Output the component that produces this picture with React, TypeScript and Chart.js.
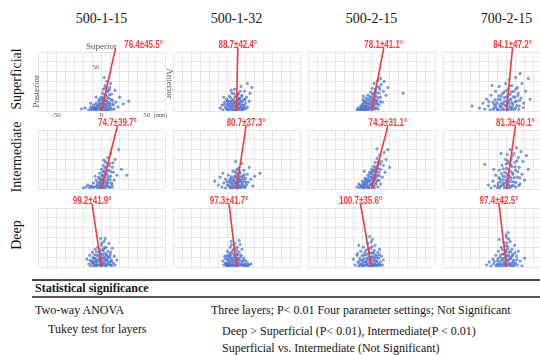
import React, { useEffect, useRef } from 'react';
import { Chart, registerables } from 'chart.js';

Chart.register(...registerables);

type Pt = [number, number];

const settings = ['500-1-15', '500-1-32', '500-2-15', '700-2-15'];
const layers = ['Superficial', 'Intermediate', 'Deep'];
const meanAngles = [
  [76.4, 88.7, 78.1, 84.1],
  [74.7, 80.7, 74.3, 81.3],
  [99.2, 97.3, 100.7, 97.4],
];
const sdAngles = [
  [45.5, 42.4, 41.1, 47.2],
  [39.7, 37.3, 31.1, 40.1],
  [41.9, 41.7, 35.6, 42.5],
];
const xTicks = [-50, 0, 50];
const yTicks = [50];

const supA: Pt[] = [[-22,2],[-18,3],[-14,1],[-12,4],[-10,2],[-9,6],[-8,1],[-7,3],[-6,8],[-5,2],[-4,5],[-3,11],[-2,1],[-2,7],[-1,4],[0,14],[0,2],[1,9],[1,18],[2,5],[2,22],[3,1],[3,12],[4,7],[4,26],[5,3],[5,16],[6,10],[6,30],[7,5],[7,20],[8,13],[8,1],[9,24],[9,8],[10,3],[11,17],[12,11],[13,6],[14,2],[15,21],[16,9],[18,4],[20,14],[24,7],[30,10],[3,34],[-6,14],[-12,8],[10,28],
  [-7.5,2.5],[-6.5,5.5],[-5.5,0.5],[-4.5,3.5],[-3.5,6.5],[-2.5,9.5],[-1.5,2.5],[-0.5,6.5],[0.5,0.5],[0.5,11.5],[1.5,3.5],[1.5,7.5],[2.5,13.5],[2.5,9.5],[3.5,4.5],[3.5,16.5],[4.5,1.5],[4.5,10.5],[5.5,6.5],[5.5,19.5],[6.5,13.5],[6.5,0.5],[7.5,8.5],[7.5,2.5],[8.5,16.5],[9.5,5.5],[10.5,11.5],[11.5,1.5],[-9.5,3.5],[-1.5,12.5],[3.5,23.5],[8.5,21.5],[-11.5,1.5],[12.5,7.5]];
const supB: Pt[] = [[-18,3],[-16,6],[-15,1],[-13,9],[-12,4],[-11,12],[-10,2],[-9,7],[-8,15],[-8,1],[-7,5],[-6,10],[-5,3],[-5,18],[-4,7],[-3,12],[-3,1],[-2,22],[-2,5],[-1,9],[0,15],[0,3],[1,6],[1,11],[2,2],[2,18],[3,8],[3,13],[4,4],[5,10],[5,25],[6,1],[6,16],[7,6],[8,12],[8,3],[9,20],[10,8],[11,14],[12,4],[12,28],[14,10],[15,18],[17,24],[-14,14],[-6,21],[4,20],[-10,10],
  [-11.5,2.5],[-10.5,6.5],[-9.5,0.5],[-9.5,10.5],[-8.5,4.5],[-7.5,8.5],[-6.5,2.5],[-6.5,13.5],[-5.5,6.5],[-4.5,0.5],[-4.5,10.5],[-3.5,4.5],[-2.5,8.5],[-1.5,1.5],[-1.5,14.5],[-0.5,5.5],[0.5,10.5],[0.5,0.5],[1.5,3.5],[1.5,16.5],[2.5,7.5],[3.5,1.5],[3.5,11.5],[4.5,6.5],[5.5,3.5],[5.5,14.5],[6.5,9.5],[7.5,1.5],[8.5,5.5],[9.5,11.5],[10.5,2.5],[-13.5,6.5],[2.5,12.5],[-2.5,17.5]];
const supC: Pt[] = [[-16,1],[-15,3],[-13,2],[-12,5],[-11,1],[-10,7],[-9,3],[-8,10],[-8,1],[-7,5],[-6,2],[-6,13],[-5,8],[-4,4],[-4,16],[-3,1],[-2,11],[-2,6],[-1,19],[0,3],[0,14],[1,9],[1,23],[2,5],[2,17],[3,12],[3,28],[4,2],[4,20],[5,8],[5,15],[6,25],[6,11],[7,31],[8,18],[8,6],[9,22],[10,14],[10,33],[11,27],[12,9],[13,20],[14,30],[16,16],[18,24],[35,18],[-9,15],[7,2],
  [-11.5,2.5],[-10.5,4.5],[-9.5,0.5],[-8.5,6.5],[-7.5,2.5],[-7.5,8.5],[-6.5,4.5],[-5.5,0.5],[-5.5,10.5],[-4.5,6.5],[-3.5,2.5],[-3.5,12.5],[-2.5,8.5],[-1.5,3.5],[-1.5,14.5],[-0.5,7.5],[0.5,0.5],[0.5,11.5],[1.5,5.5],[1.5,17.5],[2.5,9.5],[2.5,2.5],[3.5,14.5],[3.5,6.5],[4.5,22.5],[4.5,10.5],[5.5,3.5],[5.5,18.5],[6.5,7.5],[7.5,13.5],[8.5,24.5],[-9.5,11.5],[9.5,9.5],[-13.5,0.5]];
const supD: Pt[] = [[-38,5],[-30,3],[-26,8],[-24,2],[-22,12],[-20,5],[-18,1],[-17,16],[-15,9],[-14,3],[-12,20],[-12,6],[-10,1],[-9,12],[-8,25],[-7,4],[-6,15],[-5,8],[-4,2],[-3,19],[-2,10],[-1,28],[0,5],[0,14],[1,1],[2,22],[2,9],[3,32],[4,4],[4,17],[5,12],[6,26],[6,2],[7,7],[8,20],[9,14],[10,34],[10,3],[11,10],[12,24],[13,18],[14,5],[15,38],[16,13],[17,28],[19,8],[21,20],[24,33],[26,12],[-16,26],
  [-14.5,1.5],[-13.5,6.5],[-12.5,11.5],[-11.5,3.5],[-10.5,8.5],[-9.5,1.5],[-8.5,15.5],[-7.5,6.5],[-6.5,0.5],[-6.5,11.5],[-5.5,4.5],[-4.5,17.5],[-3.5,7.5],[-2.5,1.5],[-2.5,13.5],[-1.5,5.5],[-0.5,20.5],[0.5,9.5],[1.5,2.5],[1.5,15.5],[2.5,6.5],[3.5,11.5],[3.5,25.5],[4.5,1.5],[5.5,8.5],[5.5,19.5],[6.5,4.5],[7.5,14.5],[8.5,1.5],[9.5,9.5],[10.5,22.5],[11.5,5.5],[12.5,15.5],[13.5,1.5],[14.5,10.5],[-19.5,9.5],[18.5,3.5]];

const intA: Pt[] = [[-20,1],[-17,2],[-15,4],[-13,1],[-11,3],[-9,6],[-8,2],[-6,9],[-5,4],[-4,1],[-3,12],[-2,7],[-2,16],[-1,3],[0,10],[0,20],[1,5],[1,14],[2,1],[2,24],[3,8],[3,18],[4,12],[4,28],[5,3],[5,22],[6,6],[6,15],[7,32],[7,10],[8,19],[8,2],[9,26],[10,13],[10,36],[11,6],[12,22],[13,17],[14,9],[15,30],[17,14],[19,40],[22,20],[-7,13],[28,14],[12,2],
  [-5.5,2.5],[-4.5,6.5],[-3.5,3.5],[-2.5,0.5],[-2.5,10.5],[-1.5,5.5],[-0.5,8.5],[-0.5,1.5],[0.5,13.5],[0.5,4.5],[1.5,9.5],[1.5,17.5],[2.5,2.5],[2.5,12.5],[3.5,5.5],[3.5,21.5],[4.5,0.5],[4.5,15.5],[5.5,8.5],[5.5,26.5],[6.5,3.5],[6.5,18.5],[7.5,12.5],[7.5,6.5],[8.5,23.5],[9.5,9.5],[9.5,1.5],[10.5,17.5],[11.5,4.5],[-9.5,1.5],[-12.5,2.5],[2.5,29.5],[12.5,26.5]];
const intB: Pt[] = [[-24,8],[-20,4],[-18,12],[-16,2],[-14,6],[-12,1],[-12,10],[-10,4],[-9,14],[-8,7],[-7,2],[-6,11],[-5,5],[-4,18],[-4,1],[-3,8],[-2,13],[-1,3],[0,6],[0,16],[1,10],[1,1],[2,21],[2,4],[3,12],[3,7],[4,2],[4,16],[5,9],[6,26],[6,5],[7,13],[8,2],[8,19],[9,8],[10,11],[11,4],[12,15],[13,7],[14,22],[16,10],[18,3],[20,13],[26,16],[-1,28],[-15,16],
  [-8.5,3.5],[-7.5,9.5],[-6.5,0.5],[-6.5,6.5],[-5.5,2.5],[-5.5,12.5],[-4.5,8.5],[-3.5,4.5],[-2.5,1.5],[-2.5,10.5],[-1.5,6.5],[-0.5,12.5],[-0.5,2.5],[0.5,8.5],[0.5,4.5],[1.5,14.5],[1.5,6.5],[2.5,0.5],[2.5,10.5],[3.5,3.5],[3.5,17.5],[4.5,8.5],[5.5,1.5],[5.5,12.5],[6.5,6.5],[7.5,3.5],[7.5,10.5],[8.5,14.5],[9.5,1.5],[10.5,6.5],[-10.5,7.5],[0.5,19.5],[-1.5,17.5]];
const intC: Pt[] = [[-16,2],[-14,5],[-13,1],[-11,3],[-10,8],[-9,1],[-8,5],[-7,11],[-6,3],[-5,7],[-4,14],[-3,1],[-3,9],[-2,17],[-1,5],[0,12],[0,20],[1,3],[1,15],[2,8],[2,23],[3,1],[3,18],[4,11],[4,27],[5,6],[5,21],[6,14],[6,31],[7,2],[7,24],[8,9],[8,17],[9,34],[10,20],[10,5],[11,28],[12,12],[13,24],[14,37],[15,17],[16,30],[18,40],[20,22],[-8,18],[6,41],
  [-10.5,2.5],[-9.5,5.5],[-8.5,1.5],[-7.5,3.5],[-7.5,7.5],[-6.5,9.5],[-5.5,1.5],[-5.5,5.5],[-4.5,10.5],[-3.5,3.5],[-3.5,7.5],[-2.5,12.5],[-2.5,1.5],[-1.5,8.5],[-1.5,15.5],[-0.5,4.5],[0.5,10.5],[0.5,17.5],[1.5,6.5],[1.5,12.5],[2.5,2.5],[2.5,19.5],[3.5,9.5],[3.5,14.5],[4.5,4.5],[4.5,22.5],[5.5,12.5],[5.5,17.5],[6.5,8.5],[7.5,20.5],[7.5,27.5],[8.5,13.5],[9.5,25.5],[-12.5,3.5]];
const intD: Pt[] = [[-24,25],[-20,4],[-17,1],[-15,8],[-13,3],[-12,14],[-10,1],[-9,6],[-8,19],[-7,10],[-6,3],[-5,24],[-4,13],[-3,6],[-2,1],[-2,17],[-1,30],[0,9],[0,21],[1,4],[1,35],[2,14],[2,26],[3,1],[3,8],[4,18],[4,40],[5,11],[5,30],[6,3],[6,23],[7,15],[8,36],[8,7],[9,27],[10,19],[10,2],[11,42],[12,12],[13,32],[14,22],[15,5],[16,38],[17,15],[18,28],[20,9],[22,34],[24,20],[-6,36],[-14,20],
  [-9.5,3.5],[-8.5,11.5],[-7.5,1.5],[-6.5,7.5],[-5.5,15.5],[-4.5,4.5],[-3.5,9.5],[-3.5,20.5],[-2.5,3.5],[-1.5,12.5],[-0.5,6.5],[-0.5,25.5],[0.5,1.5],[0.5,15.5],[1.5,10.5],[1.5,28.5],[2.5,4.5],[2.5,19.5],[3.5,12.5],[4.5,2.5],[4.5,24.5],[5.5,7.5],[6.5,16.5],[6.5,33.5],[7.5,3.5],[8.5,11.5],[9.5,22.5],[10.5,6.5],[11.5,28.5],[12.5,17.5],[13.5,3.5],[14.5,11.5]];

const deepA: Pt[] = [[-16,8],[-14,3],[-13,12],[-12,1],[-11,6],[-10,15],[-9,4],[-8,9],[-8,1],[-7,18],[-6,6],[-5,12],[-5,2],[-4,20],[-3,8],[-2,3],[-2,15],[-1,10],[0,1],[0,22],[1,6],[1,13],[2,18],[2,3],[3,9],[3,26],[4,1],[4,14],[5,7],[5,20],[6,11],[6,3],[7,16],[8,5],[8,24],[9,10],[10,2],[10,15],[11,7],[12,19],[13,4],[14,11],[15,2],[17,7],[-1,29],[4,29],
  [-10.5,3.5],[-9.5,9.5],[-8.5,5.5],[-7.5,1.5],[-7.5,12.5],[-6.5,3.5],[-6.5,8.5],[-5.5,15.5],[-4.5,5.5],[-4.5,1.5],[-3.5,11.5],[-2.5,6.5],[-1.5,1.5],[-1.5,17.5],[-0.5,4.5],[-0.5,12.5],[0.5,8.5],[1.5,2.5],[1.5,16.5],[2.5,10.5],[3.5,4.5],[3.5,19.5],[4.5,7.5],[5.5,1.5],[5.5,12.5],[6.5,6.5],[7.5,9.5],[8.5,2.5],[9.5,12.5],[10.5,5.5],[11.5,1.5],[-12.5,6.5],[0.5,24.5]];
const deepB: Pt[] = [[-15,6],[-14,2],[-13,11],[-12,4],[-11,1],[-10,8],[-10,16],[-9,3],[-8,12],[-8,1],[-7,6],[-7,20],[-6,9],[-5,2],[-5,14],[-4,5],[-3,18],[-3,10],[-2,1],[-2,24],[-1,7],[0,13],[0,3],[1,9],[1,20],[2,5],[2,1],[3,15],[3,27],[4,7],[5,2],[5,12],[6,18],[6,5],[7,1],[8,9],[9,3],[10,6],[11,1],[12,4],[14,2],[16,3],[4,23],[-6,26],
  [-11.5,3.5],[-10.5,1.5],[-10.5,11.5],[-9.5,6.5],[-8.5,2.5],[-8.5,9.5],[-7.5,14.5],[-7.5,4.5],[-6.5,1.5],[-6.5,11.5],[-5.5,7.5],[-4.5,3.5],[-4.5,16.5],[-3.5,7.5],[-3.5,1.5],[-2.5,12.5],[-1.5,4.5],[-1.5,19.5],[-0.5,9.5],[-0.5,1.5],[0.5,6.5],[0.5,16.5],[1.5,3.5],[1.5,12.5],[2.5,8.5],[3.5,2.5],[4.5,10.5],[6.5,2.5],[7.5,6.5],[9.5,1.5],[12.5,1.5],[-12.5,8.5],[-5.5,22.5]];
const deepC: Pt[] = [[-20,8],[-18,2],[-16,12],[-15,5],[-14,1],[-13,9],[-12,16],[-11,3],[-10,7],[-9,20],[-9,1],[-8,12],[-7,5],[-6,17],[-6,2],[-5,9],[-4,24],[-4,4],[-3,14],[-2,7],[-2,1],[-1,19],[0,10],[0,3],[1,28],[1,14],[2,6],[2,1],[3,17],[3,9],[4,3],[4,22],[5,12],[6,6],[6,1],[7,15],[8,9],[8,3],[9,18],[10,5],[11,11],[12,2],[13,7],[-2,31],[-14,22],
  [-13.5,3.5],[-12.5,6.5],[-11.5,1.5],[-10.5,11.5],[-9.5,4.5],[-8.5,8.5],[-8.5,1.5],[-7.5,14.5],[-6.5,5.5],[-5.5,2.5],[-5.5,12.5],[-4.5,7.5],[-3.5,1.5],[-3.5,18.5],[-2.5,10.5],[-1.5,4.5],[-1.5,14.5],[-0.5,7.5],[0.5,1.5],[0.5,20.5],[1.5,10.5],[2.5,3.5],[2.5,14.5],[3.5,7.5],[4.5,1.5],[4.5,11.5],[5.5,5.5],[6.5,9.5],[7.5,2.5],[8.5,12.5],[9.5,1.5],[-15.5,13.5],[-0.5,25.5]];
const deepD: Pt[] = [[-22,2],[-19,5],[-17,1],[-15,8],[-14,3],[-12,12],[-11,1],[-10,6],[-9,16],[-8,3],[-7,10],[-6,1],[-6,20],[-5,7],[-4,13],[-3,3],[-3,25],[-2,9],[-1,17],[-1,1],[0,30],[0,6],[1,12],[1,21],[2,3],[2,35],[3,8],[3,15],[4,1],[4,26],[5,10],[6,4],[6,18],[7,13],[8,1],[8,7],[9,22],[10,4],[11,11],[12,2],[13,16],[15,6],[17,1],[20,9],[-8,28],
  [-10.5,2.5],[-9.5,8.5],[-8.5,1.5],[-7.5,5.5],[-6.5,12.5],[-5.5,3.5],[-4.5,8.5],[-4.5,17.5],[-3.5,1.5],[-2.5,5.5],[-2.5,13.5],[-1.5,21.5],[-1.5,3.5],[-0.5,9.5],[-0.5,15.5],[0.5,1.5],[0.5,24.5],[1.5,6.5],[1.5,18.5],[2.5,11.5],[2.5,28.5],[3.5,3.5],[4.5,8.5],[4.5,15.5],[5.5,1.5],[6.5,11.5],[7.5,5.5],[8.5,2.5],[9.5,14.5],[11.5,7.5],[-13.5,5.5],[-0.5,32.5]];

const clouds: Pt[][][] = [
  [supA, supB, supC, supD],
  [intA, intB, intC, intD],
  [deepA, deepB, deepC, deepD],
];

const X_MIN = -70;
const X_MAX = 70;
const Y_MIN = 0;
const Y_MAX = 60;
const LINE_TOP = 64;

const PANEL_W = 127;
const PANEL_H = 59;
const PAD_L = 12;
const PAD_R = 10;
const PAD_T = 16;
const PAD_B = 10;
const colLeft = (c: number) => 38 + c * 135;
const rowTop = (r: number) => 52 + r * 78;

const annotPlugin = {
  id: 'annot',
  afterDatasetsDraw(chart: any, _args: any, opts: any) {
    const { ctx, chartArea } = chart;
    const xs = chart.scales.x;
    const ys = chart.scales.y;
    const angle: number = opts.angle;
    const sd: number = opts.sd;
    const first: boolean = opts.first;
    const rad = (angle * Math.PI) / 180;
    const tx = xs.getPixelForValue(LINE_TOP / Math.tan(rad));
    ctx.save();
    ctx.fillStyle = '#ff3c3c';
    ctx.font = "bold 10px 'Liberation Sans', Arial, sans-serif";
    ctx.textAlign = 'center';
    ctx.textBaseline = 'middle';
    ctx.save();
    ctx.translate(tx + (first ? 28 : 0), chartArea.top - 7);
    ctx.scale(0.8, 1);
    ctx.fillText(`${angle.toFixed(1)}±${sd.toFixed(1)}°`, 0, 0);
    ctx.restore();
    if (first) {
      ctx.fillStyle = '#555';
      ctx.font = "9px 'Liberation Serif', serif";
      ctx.fillText('Superior', xs.getPixelForValue(0), chartArea.top - 5);
      ctx.save();
      ctx.translate(chartArea.left - 1, ys.getPixelForValue(20));
      ctx.rotate(-Math.PI / 2);
      ctx.fillText('Posterior', 0, 0);
      ctx.restore();
      ctx.save();
      ctx.translate(chartArea.right + 4, ys.getPixelForValue(28));
      ctx.rotate(Math.PI / 2);
      ctx.fillText('Anterior', 0, 0);
      ctx.restore();
      ctx.font = "7px 'Liberation Serif', serif";
      xTicks.forEach((v) => {
        ctx.fillText(String(v), xs.getPixelForValue(v), chartArea.bottom + 4);
      });
      ctx.textAlign = 'left';
      ctx.font = "6px 'Liberation Serif', serif";
      ctx.fillText('(mm)', xs.getPixelForValue(xTicks[2]) + 7, chartArea.bottom + 4);
      ctx.font = "7px 'Liberation Serif', serif";
      ctx.textAlign = 'right';
      ctx.textBaseline = 'top';
      yTicks.forEach((v) => {
        ctx.fillText(String(v), xs.getPixelForValue(0) - 2, ys.getPixelForValue(v) + 2);
      });
    }
    ctx.restore();
  },
};

function Panel({ r, c }: { r: number; c: number }) {
  const ref = useRef<HTMLCanvasElement>(null);
  useEffect(() => {
    if (!ref.current) return;
    const angle = meanAngles[r][c];
    const rad = (angle * Math.PI) / 180;
    const gridOpts = { color: '#e6e6e6', lineWidth: 1, drawTicks: false };
    const chart = new Chart(ref.current, {
      type: 'scatter',
      data: {
        datasets: [
          {
            data: clouds[r][c].map(([x, y]) => ({ x, y })),
            pointRadius: 1.25,
            pointBackgroundColor: 'rgba(70,110,200,0.6)',
            pointBorderColor: 'rgba(55,95,195,0.8)',
            pointBorderWidth: 0.5,
            order: 1,
          },
          {
            data: [
              { x: 0, y: 0 },
              { x: LINE_TOP / Math.tan(rad), y: LINE_TOP },
            ],
            showLine: true,
            borderColor: '#ff3535',
            borderWidth: 1.6,
            pointRadius: 0,
            clip: false as any,
            order: 0,
          },
        ],
      },
      options: {
        responsive: false,
        maintainAspectRatio: false,
        animation: false,
        events: [],
        layout: { padding: { left: PAD_L, right: PAD_R, top: PAD_T, bottom: PAD_B } },
        plugins: {
          legend: { display: false },
          tooltip: { enabled: false },
          annot: { angle, sd: sdAngles[r][c], first: r === 0 && c === 0 },
        } as any,
        scales: {
          x: {
            type: 'linear',
            min: X_MIN,
            max: X_MAX,
            ticks: { display: false, stepSize: 10 },
            grid: gridOpts,
            border: { display: false },
          },
          y: {
            type: 'linear',
            min: Y_MIN,
            max: Y_MAX,
            ticks: { display: false, stepSize: 10 },
            grid: gridOpts,
            border: { display: false },
          },
        },
      },
      plugins: [annotPlugin],
    });
    return () => chart.destroy();
  }, [r, c]);
  return (
    <canvas
      ref={ref}
      width={PANEL_W + PAD_L + PAD_R}
      height={PANEL_H + PAD_T + PAD_B}
      style={{
        position: 'absolute',
        left: colLeft(c) - PAD_L,
        top: rowTop(r) - PAD_T,
        width: PANEL_W + PAD_L + PAD_R,
        height: PANEL_H + PAD_T + PAD_B,
      }}
    />
  );
}

const textBase: React.CSSProperties = {
  position: 'absolute',
  whiteSpace: 'nowrap',
  color: '#151515',
};

export default function App() {
  return (
    <div
      style={{
        position: 'absolute',
        left: 0,
        top: 0,
        width: 540,
        height: 355,
        overflow: 'hidden',
        background: '#fff',
        fontFamily: "'Liberation Serif', 'Times New Roman', serif",
      }}
    >
      {settings.map((s, c) => (
        <div
          key={s}
          style={{
            ...textBase,
            left: colLeft(c) + PANEL_W / 2 - 50,
            top: 10,
            width: 100,
            textAlign: 'center',
            fontSize: 14,
            lineHeight: '18px',
          }}
        >
          {s}
        </div>
      ))}
      {layers.map((l, r) => (
        <div
          key={l}
          style={{
            ...textBase,
            left: 17 - 50,
            top: rowTop(r) + PANEL_H / 2 - 3 - 9,
            width: 100,
            height: 18,
            textAlign: 'center',
            fontSize: 14,
            lineHeight: '18px',
            transform: 'rotate(-90deg)',
          }}
        >
          {l}
        </div>
      ))}
      {meanAngles.map((row, r) =>
        row.map((_, c) => <Panel key={`${r}-${c}`} r={r} c={c} />)
      )}
      <div style={{ position: 'absolute', left: 32, top: 279, width: 508, height: 2, background: '#444' }} />
      <div style={{ position: 'absolute', left: 32, top: 296, width: 508, height: 1.5, background: '#555' }} />
      <div style={{ ...textBase, left: 35, top: 281, fontSize: 12, lineHeight: '14px', fontWeight: 'bold' }}>
        Statistical significance
      </div>
      <div style={{ ...textBase, left: 35, top: 303, fontSize: 12, lineHeight: '14px' }}>Two-way ANOVA</div>
      <div style={{ ...textBase, left: 211, top: 303, fontSize: 12, lineHeight: '14px' }}>
        Three layers; P&lt; 0.01 Four parameter settings; Not Significant
      </div>
      <div style={{ ...textBase, left: 48, top: 322, fontSize: 12, lineHeight: '14px' }}>Tukey test for layers</div>
      <div style={{ ...textBase, left: 222, top: 324, fontSize: 12, lineHeight: '14px' }}>
        Deep &gt; Superficial (P&lt; 0.01), Intermediate(P &lt; 0.01)
      </div>
      <div style={{ ...textBase, left: 222, top: 341, fontSize: 12, lineHeight: '14px' }}>
        Superficial vs. Intermediate (Not Significant)
      </div>
    </div>
  );
}
